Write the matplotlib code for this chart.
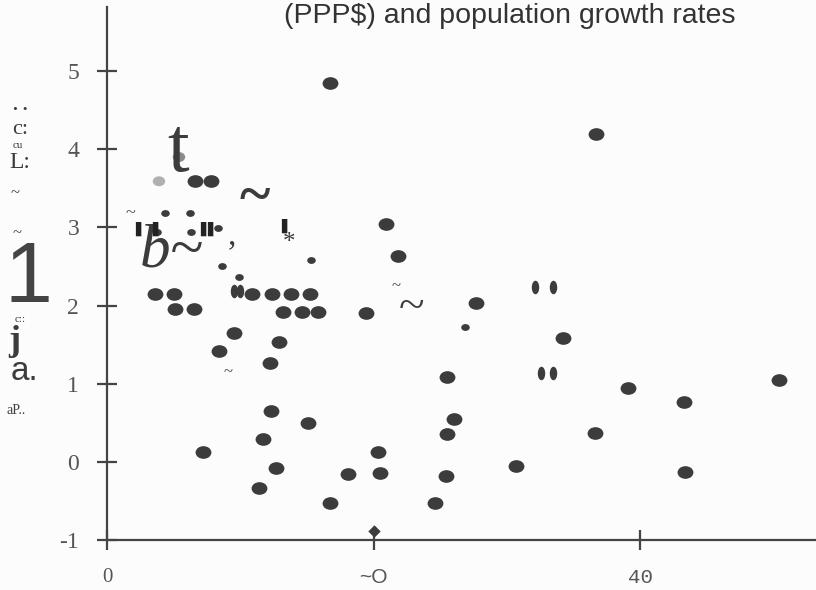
import numpy as np
import matplotlib
matplotlib.use("Agg")
import matplotlib.pyplot as plt
from matplotlib.path import Path

# per-capita income (PPP$) vs population growth rate
big_x = [16.7, 36.7, 6.6, 7.8, 20.9, 21.8, 3.6, 5.0, 5.1, 6.5, 10.9, 12.4, 13.8, 15.2,
         13.2, 14.6, 15.8, 19.4, 9.5, 8.4, 12.9, 12.2, 12.3, 15.1, 11.7, 7.2, 12.7,
         11.4, 16.7, 18.1, 20.3, 20.5, 27.7, 34.2, 25.5, 39.1, 43.3, 50.4, 26.0, 25.5,
         36.6, 30.7, 43.4, 25.4, 24.6]
big_y = [4.85, 4.19, 3.59, 3.59, 3.04, 2.63, 2.15, 2.15, 1.96, 1.96, 2.15, 2.15, 2.15, 2.15,
         1.92, 1.92, 1.92, 1.90, 1.65, 1.42, 1.53, 1.26, 0.65, 0.50, 0.29, 0.12, -0.08,
         -0.33, -0.53, -0.15, 0.12, -0.14, 2.03, 1.59, 1.09, 0.94, 0.77, 1.05, 0.55, 0.35,
         0.37, -0.05, -0.13, -0.18, -0.53]
small_x = [4.35, 6.2, 3.75, 6.3, 8.3, 15.3, 8.6, 9.9, 26.9]
small_y = [3.19, 3.19, 2.94, 2.94, 2.99, 2.58, 2.51, 2.37, 1.72]
thin_x = [9.5, 10.0, 32.1, 33.5, 32.6, 33.5]
thin_y = [2.19, 2.19, 2.24, 2.24, 1.14, 1.14]
faded_x = [5.4, 3.9]
faded_y = [3.90, 3.59]
faded_c = ["#8a8a8a", "#b0b0b0"]
arrow_x, arrow_y = [20.0], [-0.88]

x_ticks = [0, 20, 40]
x_labels = ["0", "~O", "40"]
y_ticks = [5, 4, 3, 2, 1, 0, -1]
y_labels = ["5", "4", "3", "2", "1", "0", "-1"]
title = "(PPP$) and population growth rates"

W, H = 816, 590
fig = plt.figure(figsize=(W / 100, H / 100), dpi=100)
fig.patch.set_facecolor("#fcfcfc")
ax = fig.add_axes([107 / W, 1 - 540 / H, (W - 107) / W, (540 - 7) / H])
ax.set_facecolor("none")
ax.set_xlim(0, 53.2)
ax.set_ylim(-1, 5.82)

ink = "#3c3c3c"
for side in ("top", "right"):
    ax.spines[side].set_visible(False)
for side in ("left", "bottom"):
    ax.spines[side].set_color("#444444")
    ax.spines[side].set_linewidth(1.6)

ax.set_xticks(x_ticks)
ax.set_xticklabels(x_labels)
ax.set_yticks(y_ticks)
ax.set_yticklabels(y_labels)
ax.tick_params(axis="both", direction="inout", length=14, width=1.6, color="#444444",
               labelcolor="#555555")
ax.tick_params(axis="y", pad=13, labelsize=17)
ax.tick_params(axis="x", pad=13, labelsize=15)
for lab in ax.get_yticklabels():
    lab.set_family("Liberation Serif")
xl = ax.get_xticklabels()
xl[0].set_family("Liberation Serif")
xl[1].set_family("Liberation Sans")
xl[2].set_family("Liberation Mono")

# elliptical markers, like the scan's squashed dots
circ = Path.unit_circle()
wide = Path(circ.vertices * [1.0, 0.8], circ.codes)
tall = Path(circ.vertices * [0.55, 1.0], circ.codes)

ax.scatter(big_x, big_y, marker=wide, s=130, color=ink, linewidths=0, zorder=3)
ax.scatter(small_x, small_y, marker=wide, s=38, color=ink, linewidths=0, zorder=3)
ax.scatter(thin_x, thin_y, marker=tall, s=95, color=ink, linewidths=0, zorder=3)
ax.scatter(faded_x, faded_y, marker=wide, s=80, color=faded_c, linewidths=0, zorder=2)
ax.scatter(arrow_x, arrow_y, marker="D", s=40, color=ink, linewidths=0, zorder=3)

fig.text(510 / W, 1 - 16 / H, title, ha="center", va="center", fontsize=20.5,
         family="Liberation Sans", color="#333333")

# OCR debris left over from the scanned source
def junk(px, py, s, size, **kw):
    kw.setdefault("color", ink)
    kw.setdefault("family", "Liberation Serif")
    fig.text(px / W, 1 - py / H, s, ha="center", va="center", fontsize=size, **kw)

junk(178, 152, "t", 56)
junk(255, 198, "~", 42, weight="bold")
junk(172, 252, "b~", 44, style="italic")
junk(289, 243, "*", 18)
junk(232, 236, ",", 24)
junk(130, 214, "~", 13)
for px, py in [(140, 229), (157, 229), (205, 229), (212, 229), (286, 226)]:
    junk(px, py, "\u258c", 10, family="DejaVu Sans", color="#222222")
junk(396, 286, "~", 12)
junk(412, 308, "~", 34)
junk(228, 372, "~", 12)
junk(28, 280, "1", 62, family="Liberation Sans", color="#444444")
junk(20, 105, ". .", 14, weight="bold")
junk(20, 130, "c:", 16)
junk(18, 146, "cu", 8)
junk(20, 162, "L:", 17)
junk(15, 193, "~", 12)
junk(17, 233, "~", 12)
junk(20, 320, "c::", 8)
junk(14, 342, "j", 26, weight="bold")
junk(24, 372, "a.", 24, family="Liberation Sans")
junk(16, 410, "aP..", 10)

fig.savefig("out.png", dpi=100, facecolor=fig.get_facecolor())
